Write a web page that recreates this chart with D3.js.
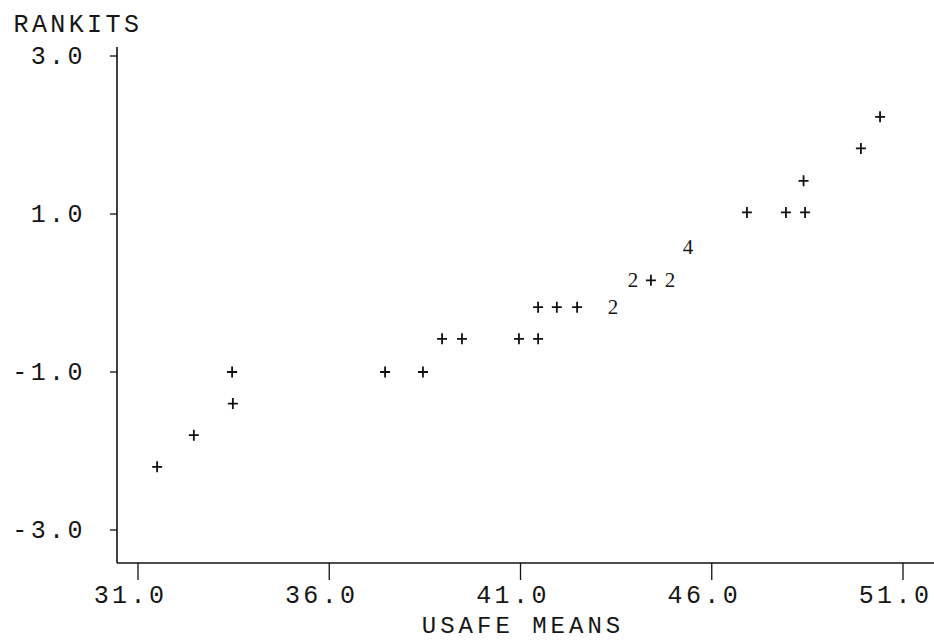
<!DOCTYPE html>
<html><head><meta charset="utf-8">
<script src="https://cdn.jsdelivr.net/npm/d3@7"></script>
<style>
html,body{margin:0;padding:0;background:#fff;}
svg{display:block;}
text{font-family:"Liberation Mono","Courier New",monospace;fill:#161616;}
text.cnt{font-family:"Liberation Serif","Times New Roman",serif;}
</style></head>
<body>
<svg id="chart" width="934" height="642"></svg>
<script>
// Data (normal probability plot)
const usafeMeans = [31.5, 32.46, 33.48, 33.46, 37.46, 38.45, 38.95, 39.47, 40.96, 41.46, 41.46, 41.95, 42.48, 43.42, 43.94, 44.41, 44.91, 45.38, 46.92, 47.94, 48.44, 48.4, 49.9, 50.4];
const rankits    = [-2.2, -1.8, -1.4, -1.0, -1.0, -1.0, -0.58, -0.58, -0.58, -0.58, -0.18, -0.18, -0.18, -0.18, 0.16, 0.16, 0.16, 0.58, 1.02, 1.02, 1.02, 1.42, 1.83, 2.23];
const counts     = [1, 1, 1, 1, 1, 1, 1, 1, 1, 1, 1, 1, 1, 2, 2, 1, 2, 4, 1, 1, 1, 1, 1, 1];
const xTicks = [31.0, 36.0, 41.0, 46.0, 51.0];
const yTicks = [3.0, 1.0, -1.0, -3.0];
const xTitle = "USAFE MEANS";
const yTitle = "RANKITS";

const svg = d3.select("#chart");
const x = d3.scaleLinear().domain([31, 51]).range([138, 903]);
const y = d3.scaleLinear().domain([-3, 3]).range([530, 56]);

const axisX0 = 117, axisY0 = 563;
const fs = 25, pitch = 18.4;

// fixed-pitch (typewriter-like) text: each glyph centred at its own cell
function monoText(parent, str, firstCenter, yy, p, size) {
  const xs = Array.from(str).map((c, i) => (firstCenter + i * p).toFixed(1));
  return parent.append("text")
    .attr("x", xs.join(" ")).attr("y", yy)
    .attr("text-anchor", "middle")
    .attr("font-size", size || fs)
    .text(str);
}

// axes lines
svg.append("line").attr("x1", axisX0).attr("x2", axisX0).attr("y1", 47).attr("y2", axisY0)
  .attr("stroke", "#111").attr("stroke-width", 1.6);
svg.append("line").attr("x1", axisX0).attr("x2", 934).attr("y1", axisY0).attr("y2", axisY0)
  .attr("stroke", "#111").attr("stroke-width", 1.6);

// x ticks
const xg = svg.append("g");
xg.selectAll("line").data(xTicks).join("line")
  .attr("x1", d => x(d)).attr("x2", d => x(d)).attr("y1", axisY0).attr("y2", axisY0 + 17)
  .attr("stroke", "#111").attr("stroke-width", 1.3);
xTicks.forEach(d => {
  const s = d.toFixed(1);
  const dot = s.indexOf(".");
  monoText(xg, s, x(d) - dot * pitch, 603, pitch);
});

// y ticks
const yg = svg.append("g");
yg.selectAll("line").data(yTicks).join("line")
  .attr("x1", axisX0 - 7).attr("x2", axisX0).attr("y1", d => y(d)).attr("y2", d => y(d))
  .attr("stroke", "#111").attr("stroke-width", 1.3);
yTicks.forEach(d => {
  const s = d.toFixed(1);
  monoText(yg, s, 75 - (s.length - 1) * pitch, y(d) + 8, pitch);
});

// titles
monoText(svg, yTitle, 21, 32, pitch);
monoText(svg, xTitle, 429, 633, pitch, 24);

// points
const pts = usafeMeans.map((v, i) => ({x: v, y: rankits[i], n: counts[i]}));
const g = svg.append("g");
pts.filter(d => d.n === 1).forEach(d => {
  const cx = x(d.x), cy = y(d.y);
  g.append("path")
    .attr("d", `M${cx-5},${cy}L${cx+5},${cy}M${cx},${cy-5.5}L${cx},${cy+5.5}`)
    .attr("stroke", "#111").attr("stroke-width", 1.8);
});
g.selectAll("text.cnt").data(pts.filter(d => d.n > 1)).join("text")
  .attr("class", "cnt")
  .attr("x", d => x(d.x)).attr("y", d => y(d.y) + 7)
  .attr("text-anchor", "middle")
  .attr("font-size", 21)
  .text(d => String(d.n));
</script>
</body></html>
